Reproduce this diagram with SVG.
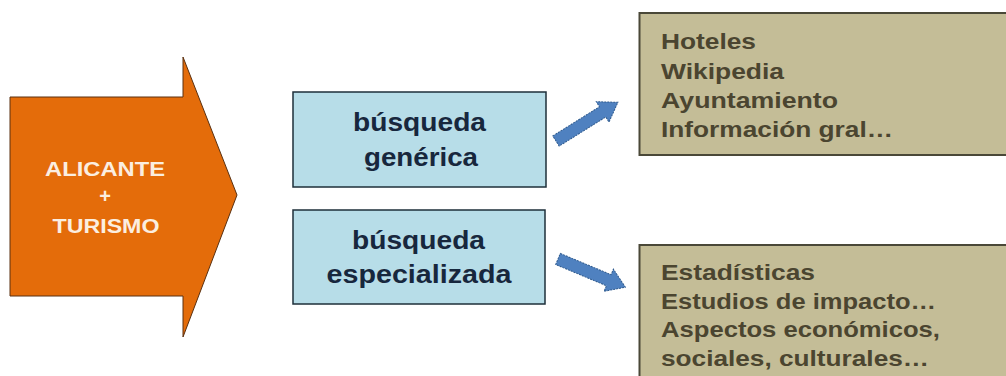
<svg xmlns="http://www.w3.org/2000/svg" width="1006" height="376" viewBox="0 0 1006 376">
  <style>
    .blue { fill: #b7dde8; stroke: #1e2f3a; stroke-width: 1.5; }
    .tan { fill: #c4bd97; stroke: #4a4838; stroke-width: 2; }
    .btxt { font-family: "Liberation Sans", Arial, sans-serif; font-weight: bold; font-size: 26px; fill: #17273d; text-anchor: middle; }
    .ttxt { font-family: "Liberation Sans", Arial, sans-serif; font-weight: bold; font-size: 22px; fill: #4b4530; }
    .otxt { font-family: "Liberation Sans", Arial, sans-serif; font-weight: bold; font-size: 20px; fill: #fbeee0; text-anchor: middle; }
    .conn { fill: #4f81c0; stroke: #2e5a8e; stroke-width: 1; stroke-dasharray: 2 1; }
  </style>
  <defs>
    <polygon id="blueArrow" points="0,-6 55,-6 55,-12 73,0 55,12 55,6 0,6"/>
  </defs>
  <rect width="1006" height="376" fill="#ffffff"/>

  <g id="node-alicante">
    <polygon points="10,97 183,97 183,57 237,195 183,337 183,296 10,296" fill="#e46c0a" stroke="#5a3010" stroke-width="1"/>
    <text class="otxt" x="105" y="176" textLength="120" lengthAdjust="spacingAndGlyphs">ALICANTE</text>
    <text class="otxt" x="105" y="203">+</text>
    <text class="otxt" x="106" y="233" textLength="107" lengthAdjust="spacingAndGlyphs">TURISMO</text>
  </g>

  <g id="node-generica">
    <rect class="blue" x="293" y="92" width="253" height="95"/>
    <text class="btxt" x="419.5" y="131" textLength="133" lengthAdjust="spacingAndGlyphs">búsqueda</text>
    <text class="btxt" x="421" y="166" textLength="114" lengthAdjust="spacingAndGlyphs">genérica</text>
  </g>

  <g id="node-especializada">
    <rect class="blue" x="293" y="210" width="252" height="94"/>
    <text class="btxt" x="418.5" y="249" textLength="133" lengthAdjust="spacingAndGlyphs">búsqueda</text>
    <text class="btxt" x="419" y="283" textLength="185" lengthAdjust="spacingAndGlyphs">especializada</text>
  </g>

  <g id="node-general-results">
    <rect class="tan" x="639.5" y="13" width="380" height="142"/>
    <text class="ttxt" x="661" y="49" textLength="95" lengthAdjust="spacingAndGlyphs">Hoteles</text>
    <text class="ttxt" x="661" y="78.5" textLength="123" lengthAdjust="spacingAndGlyphs">Wikipedia</text>
    <text class="ttxt" x="661" y="108" textLength="177" lengthAdjust="spacingAndGlyphs">Ayuntamiento</text>
    <text class="ttxt" x="661" y="137" textLength="232" lengthAdjust="spacingAndGlyphs">Información gral…</text>
  </g>

  <g id="node-special-results">
    <rect class="tan" x="639.5" y="245" width="380" height="140"/>
    <text class="ttxt" x="661" y="280" textLength="154" lengthAdjust="spacingAndGlyphs">Estadísticas</text>
    <text class="ttxt" x="661" y="308.5" textLength="275" lengthAdjust="spacingAndGlyphs">Estudios de impacto…</text>
    <text class="ttxt" x="661" y="337" textLength="279" lengthAdjust="spacingAndGlyphs">Aspectos económicos,</text>
    <text class="ttxt" x="661" y="365.5" textLength="268" lengthAdjust="spacingAndGlyphs">sociales, culturales…</text>
  </g>

  <g id="connectors">
    <use href="#blueArrow" class="conn" transform="translate(556,141) rotate(-32)"/>
    <use href="#blueArrow" class="conn" transform="translate(558,259) rotate(22.7)"/>
  </g>
</svg>
